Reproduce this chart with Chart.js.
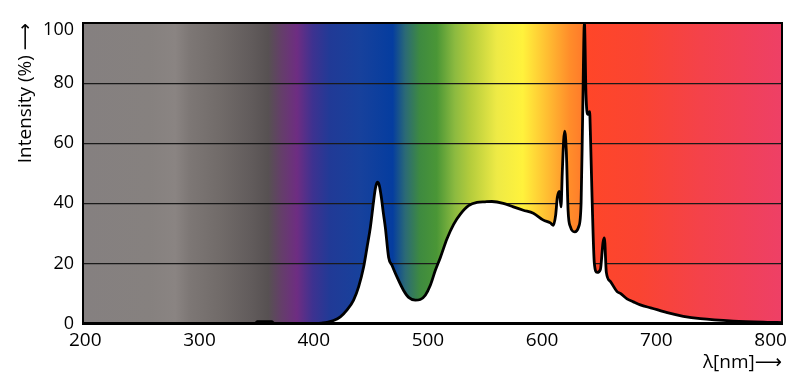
<!DOCTYPE html>
<html><head><meta charset="utf-8">
<script src="https://cdn.jsdelivr.net/npm/chart.js@4"></script>
<style>html,body{margin:0;padding:0;background:#fff;}</style>
</head><body>
<canvas id="c" width="800" height="382"></canvas>
<script>
const wavelengths = [198,300,349,350.5,363.5,365,402,408,411.6,417.4,423.3,429.2,434.9,439.3,443.7,446.7,449.6,452.2,454,455.7,457.4,459.2,460.9,462.7,465.6,468.6,472.9,478.7,483.1,489,493.3,497.7,502.1,506.5,510.9,516.7,522.5,528.4,535.6,543,550,556,566,574.8,583.5,592.3,601.1,607.2,609.8,611.8,613.3,615.1,616.5,617.6,618.8,619.7,621.2,622.7,624.7,628.5,632,634.1,635.5,637,638.4,639.8,641.6,642.2,643.7,645.7,648.1,651,653.3,654.5,656.2,659.7,665.6,668.5,674.3,679.9,686,695,700.6,709.6,723.6,738.5,767.4,797.2,810];
const intensity = [0,0,0,0.6,0.6,0,0,0.2,0.4,1.0,2.2,4.5,7.8,12.2,18.8,25.4,32,40,45,47,46,42,37,32,22,19.3,15.5,11,8.7,7.8,8,9.4,12.7,17.7,22,28.2,33,36.4,39.2,40.3,40.5,40.6,40,38.8,37.7,36.7,34.4,33.5,32.7,36,42,44,38.8,50,60.8,64,57,37.7,32.2,30.5,32.2,40,70,100,76,69.6,70.5,64,42,20,17,18,27,28.5,17,14,10.6,10,8.2,7.2,6.2,5.2,4.6,3.6,2.4,1.6,0.8,0.4,0.3];
const xTicks = [200,300,400,500,600,700,800];
const yTicks = [0,20,40,60,80,100];
const xTitle = 'λ[nm]⟶';
const yTitle = 'Intensity (%) ⟶';

const spectrumStops = [
  [0,'#858080'],[0.096,'#86817f'],[0.132,'#8a8482'],[0.153,'#7d7775'],[0.196,'#716b69'],
  [0.239,'#625c5c'],[0.265,'#575152'],[0.285,'#653d6b'],[0.306,'#6e2d82'],[0.329,'#3d3290'],
  [0.353,'#213a96'],[0.396,'#17419c'],[0.443,'#053d9f'],[0.461,'#2b6a76'],[0.482,'#3e8a40'],
  [0.506,'#4a9636'],[0.532,'#8cba40'],[0.554,'#b4cc3c'],[0.592,'#eeea46'],[0.629,'#fff23c'],
  [0.664,'#ffbe32'],[0.697,'#ff8c2a'],[0.716,'#ff7a2a'],[0.718,'#ff4628'],[0.797,'#fa4432'],
  [0.883,'#f4424a'],[1,'#ee4066']
];

const bgPlugin = {
  id: 'bg',
  beforeDraw(chart) {
    const {ctx, chartArea: a} = chart;
    const g = ctx.createLinearGradient(a.left, 0, a.right, 0);
    spectrumStops.forEach(([o, c]) => g.addColorStop(o, c));
    ctx.save();
    ctx.fillStyle = g;
    ctx.fillRect(a.left, a.top, a.right - a.left, a.bottom - a.top);
    ctx.restore();
  }
};
const framePlugin = {
  id: 'frame',
  afterDatasetsDraw(chart) {
    const {ctx, chartArea: a} = chart;
    ctx.save();
    ctx.strokeStyle = '#000';
    ctx.lineWidth = 2;
    ctx.strokeRect(a.left, a.top, a.right - a.left, a.bottom - a.top);
    ctx.lineWidth = 3;
    ctx.beginPath();
    ctx.moveTo(a.left - 1, a.bottom);
    ctx.lineTo(a.right + 1, a.bottom);
    ctx.stroke();
    ctx.restore();
  }
};

const FONT = '"Open Sans", "DejaVu Sans", sans-serif';

new Chart(document.getElementById('c'), {
  type: 'line',
  data: {
    datasets: [{
      data: wavelengths.map((w, i) => ({x: w, y: intensity[i]})),
      borderColor: '#000',
      borderWidth: 2.8,
      backgroundColor: '#fff',
      fill: 'origin',
      pointRadius: 0,
      cubicInterpolationMode: 'monotone'
    }]
  },
  options: {
    responsive: false,
    animation: false,
    devicePixelRatio: 1,
    layout: {padding: {top: 21, right: 18, left: 0, bottom: 0}},
    plugins: {legend: {display: false}, tooltip: {enabled: false}},
    scales: {
      x: {
        type: 'linear', min: 198, max: 810,
        afterBuildTicks: s => { s.ticks = xTicks.map(v => ({value: v})); },
        afterFit: s => { s.height = 58.5; },
        grid: {display: false, drawTicks: false},
        border: {display: false},
        ticks: {color: '#000', padding: 6, maxRotation: 0, autoSkip: false,
                font: {family: FONT, size: 19}},
        title: {display: true, text: xTitle, align: 'end', color: '#000',
                font: {family: FONT, size: 19}, padding: {top: 0, bottom: 8}}
      },
      y: {
        min: 0, max: 100,
        afterBuildTicks: s => { s.ticks = yTicks.map(v => ({value: v})); },
        afterFit: s => { s.width = 83; },
        grid: {color: '#1a1a1a', lineWidth: 1.2, drawTicks: false},
        border: {display: false},
        ticks: {
          color: '#000', padding: 9,
          callback: v => v === 100 ? ['', '100'] : String(v),
          font: ctx => ({family: FONT, size: 18, lineHeight: (ctx.tick && ctx.tick.value === 100) ? '14px' : 1.2})
        },
        title: {display: true, text: yTitle, align: 'end', color: '#000',
                font: {family: FONT, size: 19}, padding: {top: 14, bottom: 0}}
      }
    }
  },
  plugins: [bgPlugin, framePlugin]
});
</script>
</body></html>
